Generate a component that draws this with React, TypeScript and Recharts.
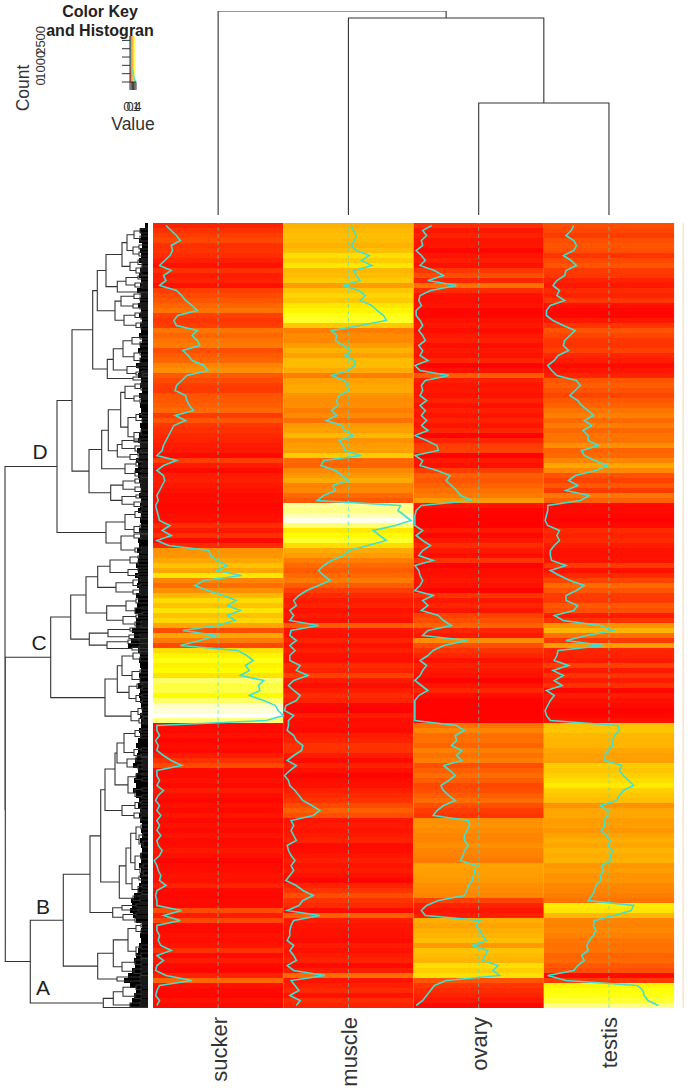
import {
  Bar,
  BarChart,
  Cell,
  ComposedChart,
  Label,
  Line,
  LineChart,
  ReferenceArea,
  ReferenceDot,
  ReferenceLine,
  XAxis,
  YAxis,
} from 'recharts';

const FONT = '"Liberation Sans", Arial, sans-serif';
const INK = '#333333';
const TRACE = '#40E0D0';

const columns = ['sucker', 'muscle', 'ovary', 'testis'];
const columnCentres = [0.5, 1.5, 2.5, 3.5];

// one value per heatmap row, top to bottom
const sucker = [
  .10, .14, .18, .21, .14, .15, .13, .09, .05, .14,
  .08, .10, .05, .18, .22, .25, .30, .34, .19, .16,
  .18, .34, .30, .34, .36, .23, .27, .30, .39, .42,
  .26, .22, .18, .17, .25, .26, .28, .31, .17, .25,
  .16, .14, .12, .10, .08, .07, .03, .18, .08, .03,
  .08, .09, .07, .05, .03, .04, .02, .03, .04, .05,
  .13, .07, .14, .03, .12, .43, .44, .49, .57, .49,
  .68, .39, .32, .42, .54, .64, .57, .67, .57, .63,
  .49, .23, .49, .36, .21, .65, .72, .77, .71, .74,
  .67, .85, .81, .82, .74, .85, .94, .96, 1.0, .87,
  .03, .03, .05, .02, .04, .03, .08, .14, .22, .03,
  .03, .05, .03, .08, .04, .02, .05, .03, .06, .03,
  .05, .03, .06, .03, .04, .07, .05, .01, .03, .04,
  .06, .05, .10, .03, .02, .03, .03, .22, .08, .21,
  .03, .03, .05, .04, .06, .14, .03, .08, .03, .02,
  .10, .30, .05, .03, .02, .05, .03,
];
const muscle = [
  .52, .54, .56, .55, .52, .56, .66, .60, .68, .54,
  .56, .59, .46, .58, .63, .59, .68, .72, .77, .79,
  .59, .37, .41, .40, .46, .52, .47, .55, .55, .50,
  .37, .47, .49, .50, .43, .41, .42, .37, .41, .33,
  .45, .47, .54, .43, .46, .47, .60, .31, .29, .40,
  .45, .50, .38, .40, .31, .26, .90, .88, .93, .98,
  .86, .69, .74, .79, .65, .50, .46, .37, .31, .27,
  .31, .36, .27, .18, .12, .08, .10, .05, .08, .05,
  .27, .06, .05, .10, .05, .09, .05, .05, .13, .10,
  .19, .08, .04, .08, .13, .10, .02, .01, .08, .04,
  .04, .03, .08, .10, .15, .14, .08, .03, .10, .05,
  .01, .04, .05, .09, .12, .15, .22, .28, .23, .06,
  .08, .06, .08, .10, .03, .04, .06, .09, .06, .08,
  .05, .02, .10, .15, .23, .15, .12, .03, .28, .08,
  .06, .05, .05, .03, .08, .05, .08, .10, .03, .08,
  .32, .06, .09, .12, .05, .13, .10,
];
const ovary = [
  .14, .07, .10, .06, .07, .02, .06, .09, .05, .16,
  .23, .11, .33, .13, .05, .04, .06, .02, .02, .05,
  .07, .04, .07, .09, .04, .07, .05, .11, .01, .05,
  .27, .09, .06, .07, .05, .10, .05, .09, .06, .10,
  .06, .11, .01, .10, .18, .19, .01, .07, .05, .18,
  .28, .25, .29, .33, .36, .45, .06, .02, .01, .01,
  .01, .07, .02, .07, .13, .07, .04, .15, .01, .04,
  .05, .07, .05, .01, .15, .07, .11, .06, .19, .23,
  .29, .11, .07, .41, .23, .15, .11, .05, .10, .07,
  .05, .01, .06, .11, .04, .01, .01, .01, .01, .01,
  .33, .39, .32, .33, .29, .37, .33, .37, .23, .28,
  .32, .27, .21, .23, .27, .32, .23, .18, .15, .42,
  .43, .41, .39, .39, .42, .39, .38, .36, .48, .47,
  .46, .45, .42, .41, .39, .19, .10, .06, .09, .51,
  .48, .51, .53, .56, .45, .57, .55, .53, .65, .61,
  .66, .25, .16, .13, .10, .07, .02,
];
const testis = [
  .23, .21, .17, .23, .25, .23, .15, .21, .25, .17,
  .16, .10, .07, .12, .10, .16, .05, .02, .02, .07,
  .15, .24, .20, .16, .15, .19, .11, .08, .03, .06,
  .10, .25, .28, .24, .20, .26, .29, .34, .38, .31,
  .37, .30, .34, .34, .42, .29, .31, .39, .49, .40,
  .24, .19, .26, .17, .35, .28, .03, .03, .02, .01,
  .03, .12, .10, .12, .08, .05, .05, .06, .17, .05,
  .12, .20, .31, .25, .17, .17, .26, .23, .08, .15,
  .43, .53, .33, .17, .46, .11, .10, .08, .19, .07,
  .15, .08, .14, .02, .08, .05, .03, .01, .02, .05,
  .57, .58, .54, .53, .53, .49, .47, .47, .60, .58,
  .61, .65, .69, .61, .58, .56, .43, .49, .49, .46,
  .47, .44, .48, .51, .49, .53, .51, .52, .44, .46,
  .43, .44, .40, .39, .37, .34, .69, .67, .54, .39,
  .38, .40, .38, .35, .33, .34, .29, .31, .26, .23,
  .03, .17, .72, .76, .77, .80, .88,
];
const columnValues = [sucker, muscle, ovary, testis];

// depth of the black leaf mass beside each heatmap row
const leafMass = [
  3, 8, 7, 9, 6, 8, 7, 9, 6, 8,
  9, 7, 8, 11, 7, 8, 10, 7, 9, 6,
  8, 7, 9, 6, 8, 10, 7, 8, 12, 9,
  10, 7, 8, 6, 9, 7, 8, 7, 9, 6,
  8, 7, 9, 10, 8, 11, 9, 12, 10, 13,
  10, 9, 8, 7, 9, 7, 8, 10, 7, 8,
  7, 9, 8, 10, 9, 11, 9, 10, 12, 10,
  13, 10, 11, 9, 12, 10, 11, 13, 10, 12,
  12, 16, 14, 17, 20, 10, 8, 9, 8, 7,
  9, 8, 10, 8, 9, 8, 7, 6, 8, 7,
  7, 9, 8, 10, 12, 10, 11, 13, 15, 10,
  12, 14, 12, 15, 12, 9, 10, 8, 9, 8,
  6, 7, 6, 8, 7, 6, 8, 7, 9, 7,
  8, 7, 9, 10, 14, 17, 16, 18, 15, 12,
  6, 7, 8, 7, 9, 10, 12, 14, 13, 16,
  20, 24, 18, 12, 14, 16, 18,
];

// dendrograms: [merge height, first child, second child], a bare number is a leaf position
type Tree = number | [number, Tree, Tree];

const topTree: Tree = [204, 0.5, [197, 1.5, [112, 2.5, 3.5]]];

const clusterD: Tree = [91,
  [76,
    [55.3,
      [50.7,
        [42,
          [26,
            [21, [14, [8, 6, 10], [8, 13, 18]], [15, [9, 22, 26], [9, 29, 33]]],
            [18, [10, [6, 36, 38], [6, 40, 43]], [12, [7, 44, 46], [7, 48, 52]]]],
          [30.7, [22, [10, 53, 56], [13, [6, 59, 61], [6, 63, 65]]], 69]],
        [33,
          [27, [14, [8, 70, 72], [8, 74, 77]], [15, [8, 80, 82], [8, 84, 86]]],
          [24, [13, [7, 89, 91], [7, 93, 96]], [12, [7, 99, 101], [7, 103, 106]]]]],
      [40.7,
        [34.7,
          [25, [16, [8, 113, 116], [8, 119, 123]], [14, [8, 128, 132], [8, 135, 140]]],
          [21, [10, 142, 145], [12, [6, 148, 150], [5, 151, 153]]]],
        [15, 154, 157]]],
    [59,
      [46.3,
        [39.7,
          [27.3,
            [23, [13, [7, 160, 162], [7, 164, 167]], [14, [8, 172, 174], [8, 176, 180]]],
            [20, [12, [6, 190, 193], [6, 196, 199]], [14, [7, 207, 212], [8, 216, 220]]]],
          [30.7,
            [26, [14, 216, 219], [13, [7, 222, 224], [7, 227, 229]]],
            [18, [10, 230, 233], [10, 235, 238]]]],
        [23, [12, [6, 238, 240], [6, 242, 244]], [13, [7, 247, 249], [7, 252, 254]]]],
      [37.3,
        [25, [13, [7, 255, 257], [7, 259, 261]], [13, [7, 263, 265], [7, 267, 270]]],
        [26, [12, 272, 275], [14, [6, 278, 280], [6, 282, 285]]]]]],
  [42,
    [23, [13, [7, 287, 290], [7, 293, 296]], [14, [8, 302, 305], [8, 308, 311]]],
    [27, [14, [7, 310, 312], [7, 314, 316]], [13, [7, 324, 326], [7, 328, 330]]]]];

const clusterC: Tree = [97.3,
  [77.3,
    [62,
      [50.3,
        [38, [18, [10, 333, 335], [10, 338, 342]], [20, [10, 345, 348], [10, 351, 354]]],
        [32, [15, [8, 356, 358], [8, 361, 364]], [15, [8, 366, 368], [8, 370, 372]]]],
      [41.3,
        [22, [12, 376, 380], [13, [6, 384, 386], [6, 389, 392]]],
        [25, [12, 392, 395], [13, [7, 398, 400], [7, 402, 404]]]]],
    [58.7,
      [40, [18, 405, 408], [19, [8, 411, 413], [8, 415, 416]]],
      [41, [20, [9, 416, 418], [8, 420, 421]], [16, [9, 423, 425], [9, 426, 428]]]]],
  [43,
    [30.7,
      [26, [15, [8, 429, 431], [8, 434, 438]], [16, [8, 447, 450], [8, 454, 459]]],
      [19, [11, [6, 460, 462], [6, 464, 467]], [12, [6, 471, 474], [6, 477, 480]]]],
    [17, [10, [6, 484, 487], [6, 490, 493]], [9, [5, 494, 497], [5, 499, 501]]]]];

const clusterB: Tree = [84.7,
  [58,
    [47.3,
      [43,
        [33,
          [31,
            [24, [13, [7, 506, 509], [7, 512, 515]], [14, [7, 525, 528], [7, 531, 534]]],
            [21, [12, [6, 533, 535], [6, 537, 539]], [10, [6, 541, 543], [6, 545, 547]]]],
          [20, [12, [6, 550, 552], [6, 555, 558]], [13, [6, 565, 568], [6, 572, 575]]]],
        [26, [13, [7, 578, 581], [7, 584, 587]], [14, [7, 589, 591], [7, 593, 597]]]],
      [28.7,
        [22,
          [17.3,
            [12, [7, 602, 606], [9, [5, 610, 614], [5, 618, 624]]],
            [13, [7, 630, 636], [8, [5, 641, 645], [5, 648, 652]]]],
          [16, [9, 653, 657], [10, [6, 662, 665], [6, 668, 671]]]],
        [15, [8, 672, 674], [8, 676, 679]]]],
    [35.3,
      [26, [12, 681, 684], [10, 686, 688]],
      [25, [12, 690, 693], [13, 695, 699]]]],
  [50.3,
    [34.7,
      [20, [12, [7, 701, 704], [7, 707, 710]], [12, [7, 722, 726], [7, 730, 735]]],
      [26, [13, [7, 736, 738], [7, 740, 743]], [14, [7, 745, 747], [7, 749, 752]]]],
    [31, [8, 753, 755], [8, 757, 759]]]];

const clusterA: Tree = [44.7,
  [34.7,
    [25, [12, [7, 761, 763], [7, 765, 768]], [13, [7, 770, 772], [7, 774, 777]]],
    [18, [8, 779, 781], [8, 783, 785]]],
  784.5];

const leftTree: Tree = [143, clusterD, [142.7, clusterC, [117.7, clusterB, clusterA]]];

const clusterNames = ['D', 'C', 'B', 'A'];
const clusterHeights = [108, 109, 105, 105];
const clusterPositions = [228.5, 419.5, 683.5, 764.5];

// colour key and histogram
const keyEdges = [0, .0625, .125, .1875, .25, .3125, .375, .4375, .5, .5625, .625, .6875, .75, .8125, .875, .9375, 1];
const histStarts = [0, .067, .133, .2, .267, .333, .4, .467, .533, .6, .667, .733, .8, .867, .933, 1];
const histCounts = [2587, 1920, 982, 851, 702, 614, 693, 614, 474, 298, 193, 149, 88, 96, 35, 35];
const keyXTicks = [0, .2, .4, .6, .8, 1];
const keyXLabels = ['0', '', '0.4', '', '', '1'];
const keyYTicks = [0, 500, 1000, 1500, 2000, 2500];
const keyYLabels = ['0', '', '1000', '', '', '2500'];

// R's heat.colors ramp: red to yellow, then yellow to white
function heat(v: number): string {
  if (v < 0.75) return `rgb(255,${Math.round((255 * v) / 0.75)},0)`;
  return `rgb(255,255,${Math.round((255 * (v - 0.75)) / 0.25)})`;
}

type PathPoint = { at: number | null; height: number | null };

function treePath(tree: Tree, out: PathPoint[]): { at: number; height: number } {
  if (typeof tree === 'number') return { at: tree, height: 0 };
  const [height, first, second] = tree;
  const a = treePath(first, out);
  const b = treePath(second, out);
  out.push(
    { at: a.at, height: a.height },
    { at: a.at, height },
    { at: b.at, height },
    { at: b.at, height: b.height },
    { at: b.at, height: null },
  );
  return { at: (a.at + b.at) / 2, height };
}

function buildPath(tree: Tree): PathPoint[] {
  const out: PathPoint[] = [];
  treePath(tree, out);
  return out;
}

const rows = sucker.map((_, i) => ({
  row: i,
  c0: 1,
  c1: 1,
  c2: 1,
  c3: 1,
  t0: sucker[i],
  t1: 1 + muscle[i],
  t2: 2 + ovary[i],
  t3: 3 + testis[i],
}));

const massRows = leafMass.map((depth, i) => ({ row: i, depth }));
const histRows = histStarts.map((start, i) => ({ start, count: histCounts[i] }));
const leftPath = buildPath(leftTree);
const topPath = buildPath(topTree);

const HEAT_DOMAIN: [number, number] = [0, 4.076];

function ColumnTick({ x, y, payload }: any) {
  const name = columns[columnCentres.indexOf(payload.value)];
  return (
    <g transform={`translate(${x + 8.5},${y + 1})`}>
      <text transform="rotate(-90)" textAnchor="end" fontSize={22} fontFamily={FONT} fill={INK}>
        {name}
      </text>
    </g>
  );
}

function KeyYTick({ x, y, payload }: any) {
  const label = keyYLabels[keyYTicks.indexOf(payload.value)];
  return (
    <g transform={`translate(45,${y})`}>
      <text transform="rotate(-90)" textAnchor="middle" fontSize={13} fontFamily={FONT} fill={INK}>
        {label}
      </text>
    </g>
  );
}

function KeyChart() {
  return (
    <LineChart
      width={160}
      height={200}
      data={histRows}
      margin={{ top: 36, right: 24, left: 65, bottom: 59 }}
    >
      <XAxis
        dataKey="start"
        type="number"
        domain={[0, 1]}
        ticks={keyXTicks}
        tickFormatter={(v: number) => keyXLabels[keyXTicks.indexOf(v)]}
        tick={{ fontSize: 13, fontFamily: FONT, fill: INK }}
        tickSize={8}
        tickMargin={12}
        interval={0}
        stroke={INK}
        height={59}
      >
        <Label value="Value" position="insideBottom" offset={11} fontSize={17.5} fontFamily={FONT} fill={INK} />
      </XAxis>
      <YAxis
        type="number"
        domain={[0, 2764]}
        ticks={keyYTicks}
        tick={<KeyYTick />}
        tickSize={8}
        interval={0}
        stroke={INK}
        width={65}
      />
      {keyEdges.slice(0, -1).map((edge, i) => (
        <ReferenceArea
          key={edge}
          x1={edge}
          x2={keyEdges[i + 1]}
          y1={0}
          y2={2764}
          fill={heat((edge + keyEdges[i + 1]) / 2)}
          fillOpacity={1}
          stroke="none"
        />
      ))}
      <Line
        dataKey="count"
        type="stepAfter"
        stroke={TRACE}
        strokeOpacity={0.75}
        strokeWidth={1.5}
        dot={false}
        isAnimationActive={false}
      />
    </LineChart>
  );
}

function TopDendrogram() {
  return (
    <LineChart width={531} height={204} data={topPath} margin={{ top: 0, right: 0, left: 0, bottom: 0 }}>
      <XAxis dataKey="at" type="number" domain={HEAT_DOMAIN} hide />
      <YAxis type="number" domain={[0, 204]} hide />
      <Line dataKey="height" stroke={INK} strokeWidth={1.1} dot={false} isAnimationActive={false} />
    </LineChart>
  );
}

function LeafMass() {
  return (
    <BarChart
      layout="vertical"
      width={148}
      height={785}
      data={massRows}
      barCategoryGap={0}
      margin={{ top: 0, right: 0, left: 0, bottom: 0 }}
    >
      <XAxis type="number" domain={[0, 148]} reversed hide />
      <YAxis type="category" dataKey="row" hide />
      <Bar dataKey="depth" fill="#000000" isAnimationActive={false} />
    </BarChart>
  );
}

function LeftDendrogram() {
  return (
    <LineChart
      layout="horizontal"
      width={148}
      height={785}
      data={leftPath}
      margin={{ top: 0, right: 0, left: 0, bottom: 0 }}
    >
      <XAxis dataKey="height" type="number" domain={[0, 148]} reversed hide />
      <YAxis type="number" domain={[0, 785]} reversed hide />
      <Line dataKey="at" stroke={INK} strokeWidth={1.1} dot={false} isAnimationActive={false} />
      {clusterNames.map((name, i) => (
        <ReferenceDot
          key={name}
          x={clusterHeights[i]}
          y={clusterPositions[i]}
          r={0}
          stroke="none"
          label={{ value: name, position: 'center', fontSize: 21, fontFamily: FONT, fill: '#222222' }}
        />
      ))}
    </LineChart>
  );
}

function Heatmap() {
  return (
    <ComposedChart
      layout="vertical"
      width={531}
      height={869}
      data={rows}
      barCategoryGap={0}
      margin={{ top: 0, right: 0, left: 0, bottom: 0 }}
    >
      <XAxis
        type="number"
        domain={HEAT_DOMAIN}
        ticks={columnCentres}
        tick={<ColumnTick />}
        interval={0}
        axisLine={false}
        tickLine={false}
        height={84}
      />
      <YAxis type="category" dataKey="row" hide />
      {columns.map((name, k) => (
        <Bar key={name} dataKey={`c${k}`} stackId="heat" isAnimationActive={false}>
          {columnValues[k].map((v, i) => (
            <Cell key={i} fill={heat(v)} />
          ))}
        </Bar>
      ))}
      {columnCentres.map((c) => (
        <ReferenceLine key={c} x={c} stroke={TRACE} strokeOpacity={0.6} strokeWidth={1} strokeDasharray="4 3" />
      ))}
      <ReferenceLine x={4.069} stroke="#F3D9A8" strokeWidth={1} />
      {columns.map((name, k) => (
        <Line
          key={name}
          dataKey={`t${k}`}
          stroke={TRACE}
          strokeWidth={1.6}
          dot={false}
          isAnimationActive={false}
        />
      ))}
    </ComposedChart>
  );
}

export default function App() {
  const place = (left: number, top: number) => ({ position: 'absolute' as const, left, top });
  return (
    <div style={{ position: 'absolute', left: 0, top: 0, width: 688, height: 1092, background: '#ffffff', overflow: 'hidden' }}>
      <div style={place(0, 0)}>
        <KeyChart />
      </div>
      <svg width={688} height={200} style={place(0, 0)}>
        <text x={100} y={17} textAnchor="middle" fontSize={16} fontWeight="bold" fontFamily={FONT} fill="#222222">
          Color Key
        </text>
        <text x={100} y={36} textAnchor="middle" fontSize={16} fontWeight="bold" fontFamily={FONT} fill="#222222">
          and Histogran
        </text>
        <text transform="translate(29,88) rotate(-90)" textAnchor="middle" fontSize={17.5} fontFamily={FONT} fill={INK}>
          Count
        </text>
      </svg>
      <div style={place(153, 11)}>
        <TopDendrogram />
      </div>
      <div style={place(0, 223)}>
        <LeafMass />
      </div>
      <div style={place(0, 223)}>
        <LeftDendrogram />
      </div>
      <div style={place(153, 223)}>
        <Heatmap />
      </div>
    </div>
  );
}
